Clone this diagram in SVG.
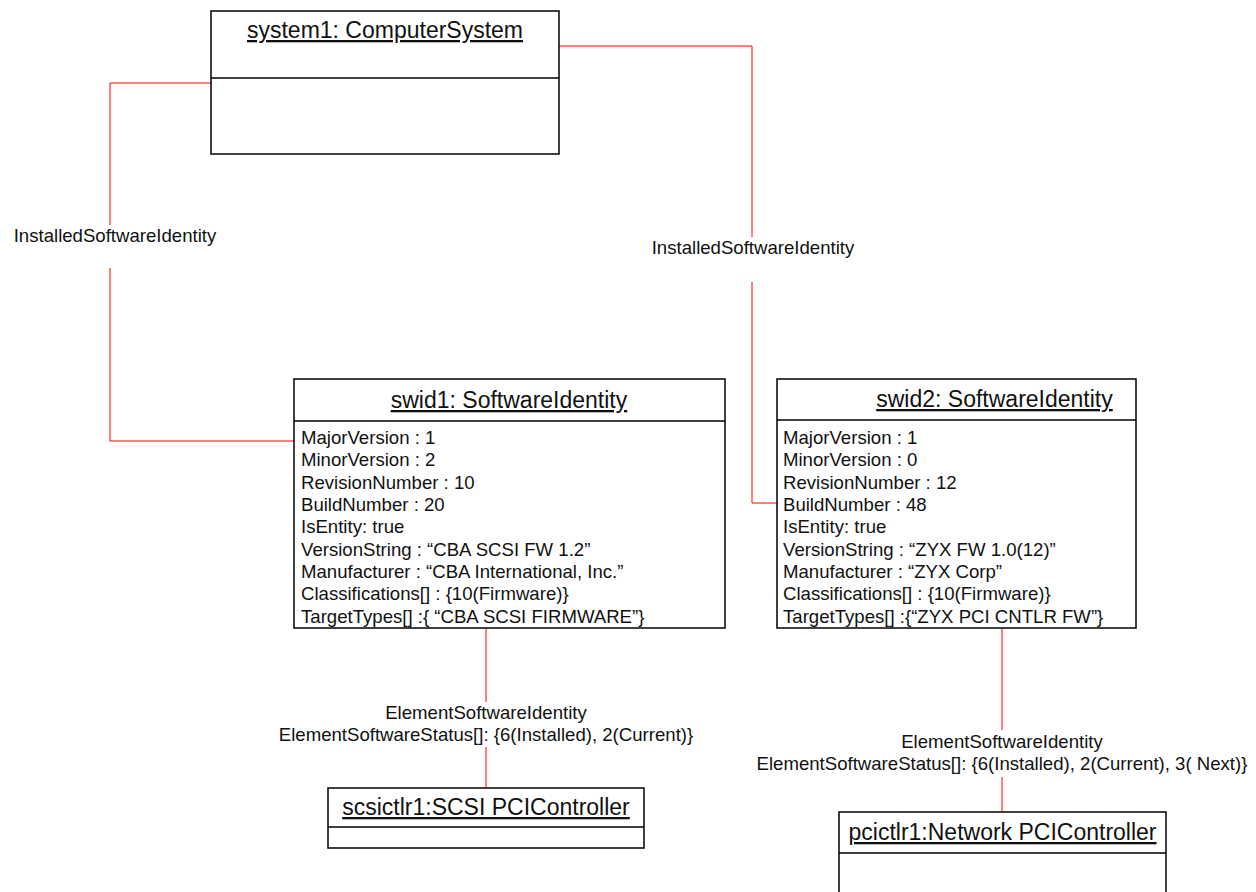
<svg xmlns="http://www.w3.org/2000/svg" width="1256" height="892" viewBox="0 0 1256 892">
<style>
text{font-family:"Liberation Sans",Arial,sans-serif;fill:#111}
.box{fill:#fff;stroke:#000;stroke-width:1.5}
.div{stroke:#000;stroke-width:1.5}
.title{font-size:23px;text-decoration:underline;text-anchor:middle}
.attr{font-size:18.6px}
.lbl{font-size:18.6px;text-anchor:middle}
.conn{fill:none;stroke:#ff0000;stroke-width:1}
</style>
<g id="connectors">
<polyline class="conn" points="211,83 110,83 110,225"/>
<polyline class="conn" points="110,268 110,441 294,441"/>
<polyline class="conn" points="559,46 752,46 752,237"/>
<polyline class="conn" points="752,282 752,503 777,503"/>
<line class="conn" x1="486" y1="629" x2="486" y2="702"/>
<line class="conn" x1="486" y1="747" x2="486" y2="788"/>
<line class="conn" x1="1002" y1="629" x2="1002" y2="730"/>
<line class="conn" x1="1002" y1="777" x2="1002" y2="812"/>
<text class="lbl" x="115" y="242">InstalledSoftwareIdentity</text>
<text class="lbl" x="753" y="254">InstalledSoftwareIdentity</text>
<text class="lbl" x="486" y="719">ElementSoftwareIdentity</text>
<text class="lbl" x="486" y="741">ElementSoftwareStatus[]: {6(Installed), 2(Current)}</text>
<text class="lbl" x="1002" y="748">ElementSoftwareIdentity</text>
<text class="lbl" x="1002" y="770">ElementSoftwareStatus[]: {6(Installed), 2(Current), 3( Next)}</text>
</g>
<g id="system1">
<rect class="box" x="211" y="11" width="348" height="143"/>
<line class="div" x1="211" y1="78" x2="559" y2="78"/>
<text class="title" x="385" y="38">system1: ComputerSystem</text>
</g>
<g id="swid1">
<rect class="box" x="294" y="379" width="431" height="249"/>
<line class="div" x1="294" y1="421" x2="725" y2="421"/>
<text class="title" x="509" y="408">swid1: SoftwareIdentity</text>
<g class="attr">
<text x="301" y="444">MajorVersion : 1</text>
<text x="301" y="466">MinorVersion : 2</text>
<text x="301" y="488.5">RevisionNumber : 10</text>
<text x="301" y="511">BuildNumber : 20</text>
<text x="301" y="533">IsEntity: true</text>
<text x="301" y="555.5">VersionString : “CBA SCSI FW 1.2”</text>
<text x="301" y="578">Manufacturer : “CBA International, Inc.”</text>
<text x="301" y="600">Classifications[] : {10(Firmware)}</text>
<text x="301" y="622.5">TargetTypes[] :{ “CBA SCSI FIRMWARE”}</text>
</g>
</g>
<g id="swid2">
<rect class="box" x="777" y="379" width="359" height="249"/>
<line class="div" x1="777" y1="420" x2="1136" y2="420"/>
<text class="title" x="994.5" y="407">swid2: SoftwareIdentity</text>
<g class="attr">
<text x="783" y="444">MajorVersion : 1</text>
<text x="783" y="466">MinorVersion : 0</text>
<text x="783" y="488.5">RevisionNumber : 12</text>
<text x="783" y="511">BuildNumber : 48</text>
<text x="783" y="533">IsEntity: true</text>
<text x="783" y="555.5">VersionString : “ZYX FW 1.0(12)”</text>
<text x="783" y="578">Manufacturer : “ZYX Corp”</text>
<text x="783" y="600">Classifications[] : {10(Firmware)}</text>
<text x="783" y="622.5">TargetTypes[] :{“ZYX PCI CNTLR FW”}</text>
</g>
</g>
<g id="scsictlr1">
<rect class="box" x="328" y="788" width="316" height="60"/>
<line class="div" x1="328" y1="827" x2="644" y2="827"/>
<text class="title" x="486" y="815">scsictlr1:SCSI PCIController</text>
</g>
<g id="pcictlr1">
<rect class="box" x="839" y="812" width="327" height="100"/>
<line class="div" x1="839" y1="853" x2="1166" y2="853"/>
<text class="title" x="1002.5" y="840">pcictlr1:Network PCIController</text>
</g>
</svg>
